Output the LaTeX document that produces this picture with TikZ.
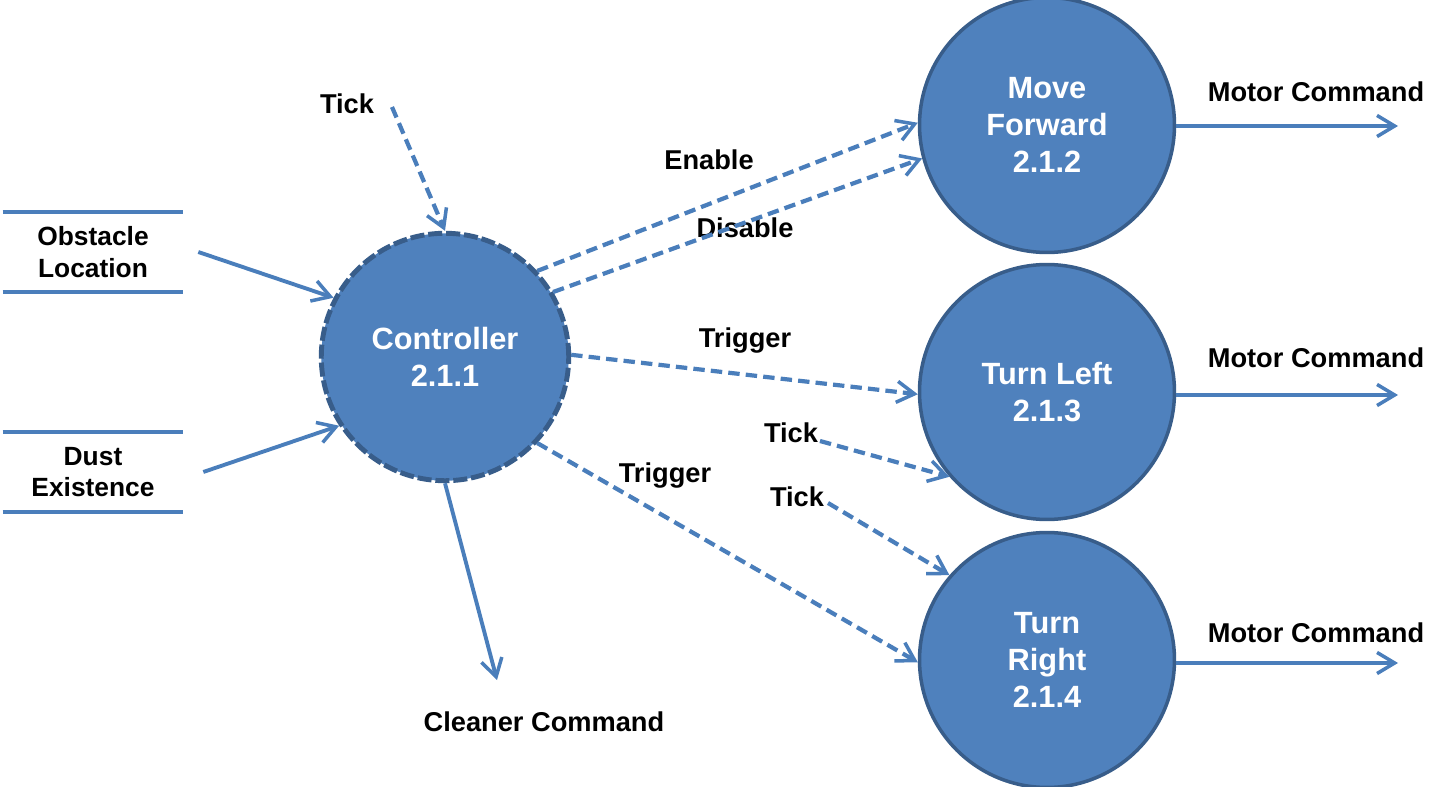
\documentclass[tikz,border=0pt]{standalone}
\usepackage{fontspec}
\setmainfont{Liberation Sans}
\usetikzlibrary{shapes,arrows.meta}
\definecolor{procblue}{RGB}{79,129,189}
\definecolor{procedge}{RGB}{56,93,138}
\definecolor{flowblue}{RGB}{74,126,187}
\tikzstyle{proc}=[circle, draw=procedge, line width=2pt, fill=procblue, text=white, minimum size=5.1cm, align=center, font=\fontsize{17.5}{21}\selectfont\bfseries]
\tikzstyle{proc-control}=[proc, dashed, dash pattern=on 8pt off 2.2pt, line width=2.8pt, minimum size=4.95cm]
\tikzstyle{store}=[minimum width=3.6cm, minimum height=1.6cm, inner sep=0pt, align=center, font=\fontsize{15}{18}\selectfont\bfseries]
\tikzstyle{lbl}=[font=\fontsize{15.5}{18}\selectfont\bfseries]
\tikzstyle{flow}=[->, >={Straight Barb[length=10pt, width=12pt, line width=2pt]}, draw=flowblue, line width=2.2pt]
\tikzstyle{flow-ctl}=[flow, line width=2.4pt, dash pattern=on 6.5pt off 3.5pt]

\begin{document}
\begin{tikzpicture}[x=0.02cm, y=-0.02cm]
	\useasboundingbox (0,0) rectangle (1438,787);
	% nodes
	 \node [proc-control] (ctrl) at (445,357) {Controller\\2.1.1};
	 \node [proc] (fwd) at (1047,125) {Move\\Forward\\2.1.2};
	 \node [proc] (left) at (1047,392) {Turn Left\\2.1.3};
	 \node [proc] (right) at (1047,660) {Turn\\Right\\2.1.4};

	 \node [store] (obst) at (93,252) {Obstacle\\Location};
	 \node [store] (dust) at (93,472) {Dust\\Existence};
	 \draw [flowblue, line width=2.2pt] (obst.north west) -- (obst.north east);
	 \draw [flowblue, line width=2.2pt] (obst.south west) -- (obst.south east);
	 \draw [flowblue, line width=2.2pt] (dust.north west) -- (dust.north east);
	 \draw [flowblue, line width=2.2pt] (dust.south west) -- (dust.south east);

	 \node [lbl] (tick-a) at (347,104) {Tick};
	 \node [lbl] (tick-b) at (791,433) {Tick};
	 \node [lbl] (tick-c) at (797,497) {Tick};
	 \coordinate (tick-a-out) at (392,107);
	 \coordinate (tick-b-out) at (820,441);
	 \coordinate (tick-c-out) at (828,503);

	 \node [lbl] at (709,160) {Enable};
	 \node [lbl] at (745,228) {Disable};
	 \node [lbl] at (745,341) {Trigger};
	 \node [lbl] at (665,476) {Trigger};

	 \node [lbl] (clean) at (544,722) {Cleaner Command};
	 \coordinate (clean-in) at (497,680);

	 \node [lbl] at (1316,92) {Motor Command};
	 \node [lbl] at (1316,358) {Motor Command};
	 \node [lbl] at (1316,633) {Motor Command};
	 \coordinate (fwd-out) at (1398,126);
	 \coordinate (left-out) at (1398,395);
	 \coordinate (right-out) at (1398,663);

	 % arrows
	 \draw [flow] ([xshift=0.3cm]obst.east) -- (ctrl.152);
	 \draw [flow] ([xshift=0.4cm]dust.east) -- (ctrl.213);
	 \draw [flow-ctl] (tick-a-out) -- (ctrl.90);
	 \draw [flow-ctl] (ctrl.43) -- (fwd.179);
	 \draw [flow-ctl] (ctrl.31) -- (fwd.195);
	 \draw [flow-ctl] (ctrl.1) -- (left.181);
	 \draw [flow-ctl] (ctrl.-43) -- (right.181);
	 \draw [flow-ctl] (tick-b-out) -- (left.221);
	 \draw [flow-ctl] (tick-c-out) -- (right.139);
	 \draw [flow] (ctrl.-90) -- (clean-in);

	 \draw [flow] (fwd.east |- fwd-out) -- (fwd-out);
	 \draw [flow] (left.east |- left-out) -- (left-out);
	 \draw [flow] (right.east |- right-out) -- (right-out);
\end{tikzpicture}
\end{document}
